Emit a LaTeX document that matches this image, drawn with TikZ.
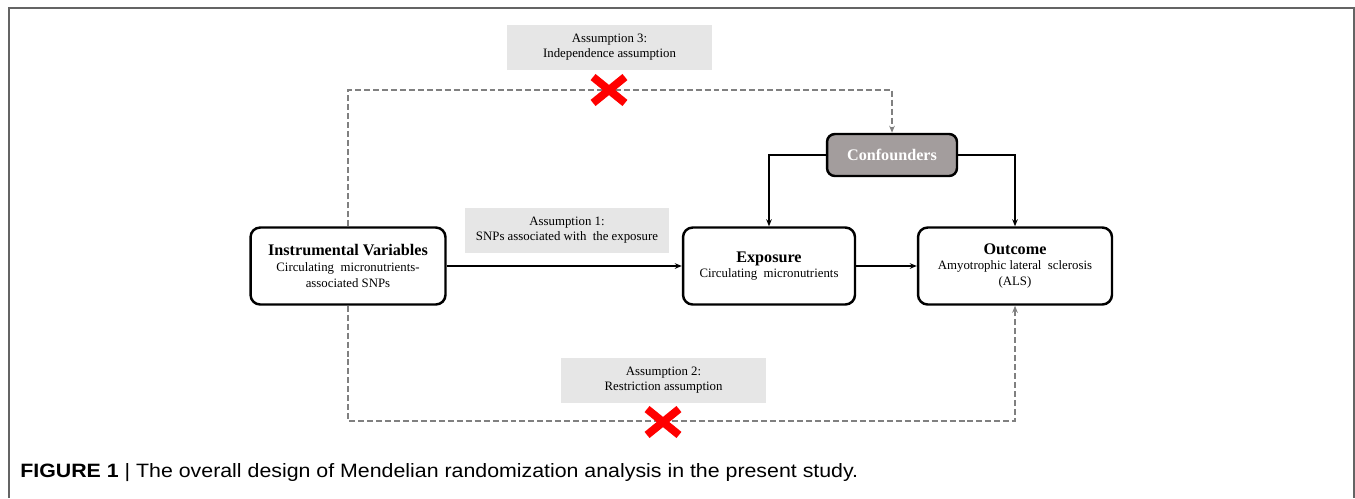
\documentclass[tikz,border=0pt]{standalone}
\usepackage{fontspec}
\setmainfont{Liberation Serif}
\newfontfamily\capfont{Liberation Sans}
\usetikzlibrary{arrows.meta,shapes.misc}
\definecolor{asmfill}{RGB}{230,230,230}
\definecolor{conffill}{RGB}{163,157,157}
\definecolor{dashgray}{RGB}{128,128,128}
\definecolor{framegray}{RGB}{100,100,100}

\begin{document}
\begin{tikzpicture}[
  x=0.02cm, y=-0.02cm,
  box/.style={draw, line width=1.4pt, rounded corners=5.5pt, fill=white, align=center,
    inner sep=0pt, font=\fontsize{7.3}{9}\selectfont},
  asm/.style={fill=asmfill, align=center, inner sep=0pt, minimum width=4.1cm,
    minimum height=0.9cm, font=\fontsize{7.3}{8.6}\selectfont},
  conn/.style={-{Stealth[length=4pt,width=3.2pt]}, line width=0.9pt},
  dconn/.style={-{Stealth[length=4pt,width=3.2pt]}, draw=dashgray, line width=1.1pt,
    dash pattern=on 3.4pt off 1.7pt},
  nope/.style={cross out, draw=red, line width=4.5pt, minimum width=0.48cm,
    minimum height=0.36cm, inner sep=0pt},
]

\useasboundingbox (0,0) rectangle (1355,498);
\draw [framegray, line width=1.1pt] (9,498) -- (9,8) -- (1354,8) -- (1354,498);

\node [box, minimum width=3.9cm, minimum height=1.54cm] (iv) at (348,266)
  {{\fontsize{9.2}{9}\selectfont\bfseries Instrumental Variables}\\
   Circulating\ \ micronutrients-\\associated SNPs};
\node [box, minimum width=3.44cm, minimum height=1.54cm] (expo) at (769,266)
  {{\fontsize{9.2}{9}\selectfont\bfseries Exposure}\\Circulating\ \ micronutrients};
\node [box, minimum width=3.88cm, minimum height=1.54cm] (outc) at (1015,266)
  {{\fontsize{9.2}{9}\selectfont\bfseries Outcome}\\
   Amyotrophic lateral\ \ sclerosis\\(ALS)};
\node [box, fill=conffill, rounded corners=4.5pt, minimum width=2.6cm, minimum height=0.84cm,
  text=white, font=\fontsize{9.2}{9}\selectfont\bfseries] (conf) at (892,155) {Confounders};

\node [asm] (asm3) at (609.5,47.5) {Assumption 3:\\Independence assumption};
\node [asm] (asm1) at (567,230.5) {Assumption 1:\\SNPs associated with\ \ the exposure};
\node [asm] (asm2) at (663.5,380) {Assumption 2:\\Restriction assumption};

\coordinate (topl) at (348,90);
\coordinate (botl) at (348,421);

\draw [conn] (iv.east) -- (expo.west);
\draw [conn] (expo.east) -- (outc.west);
\draw [conn] (conf.west) -| (expo.north);
\draw [conn] (conf.east) -| (outc.north);

\draw [dconn] (iv.north) -- (topl) -| (conf.north);
\draw [dconn] (iv.south) -- (botl) -| (outc.south);

\node [nope] (no3) at (609,90) {};
\node [nope] (no2) at (663,422) {};

\node [anchor=base west, inner sep=0pt] (cap) at (20,477)
  {\resizebox{16.76cm}{\height}{\capfont\fontsize{11}{13}\selectfont
   \textbf{FIGURE 1} | The overall design of Mendelian randomization analysis in the present study.}};

\end{tikzpicture}
\end{document}
